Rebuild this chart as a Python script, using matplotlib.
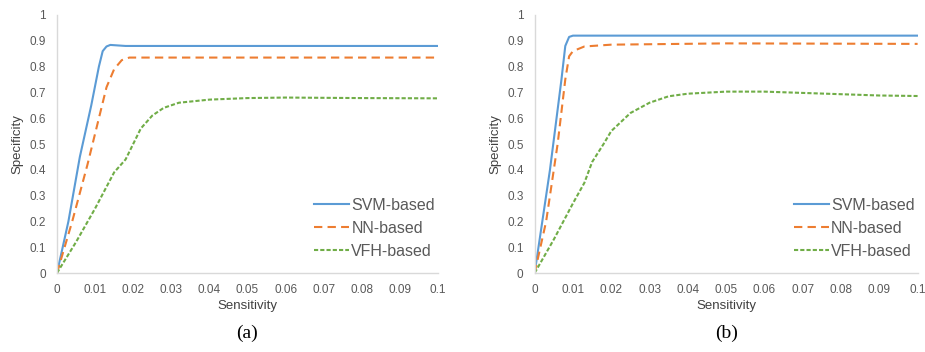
import matplotlib
matplotlib.use("Agg")
import matplotlib.pyplot as plt

# ---- data ----
# panel (a)
a_svm_x = [0, 0.003, 0.006, 0.009, 0.011, 0.012, 0.013, 0.014, 0.016, 0.018, 0.1]
a_svm_y = [0, 0.2, 0.45, 0.65, 0.8, 0.86, 0.878, 0.884, 0.882, 0.88, 0.88]
a_nn_x = [0, 0.004, 0.008, 0.011, 0.013, 0.015, 0.017, 0.019, 0.1]
a_nn_y = [0, 0.2, 0.42, 0.6, 0.72, 0.79, 0.825, 0.835, 0.835]
a_vfh_x = [0, 0.005, 0.01, 0.015, 0.018, 0.02, 0.022, 0.025, 0.028, 0.032, 0.04, 0.05, 0.06, 0.07, 0.08, 0.1]
a_vfh_y = [0, 0.12, 0.25, 0.39, 0.44, 0.5, 0.56, 0.61, 0.64, 0.66, 0.672, 0.678, 0.68, 0.679, 0.678, 0.677]

# panel (b)
b_svm_x = [0, 0.004, 0.007, 0.008, 0.009, 0.01, 0.1]
b_svm_y = [0, 0.4, 0.75, 0.88, 0.915, 0.92, 0.92]
b_nn_x = [0, 0.003, 0.006, 0.008, 0.009, 0.01, 0.013, 0.02, 0.05, 0.1]
b_nn_y = [0, 0.2, 0.5, 0.75, 0.84, 0.86, 0.878, 0.885, 0.89, 0.888]
b_vfh_x = [0, 0.005, 0.01, 0.013, 0.015, 0.018, 0.02, 0.025, 0.03, 0.035, 0.04, 0.05, 0.06, 0.07, 0.08, 0.09, 0.1]
b_vfh_y = [0, 0.13, 0.27, 0.35, 0.43, 0.5, 0.55, 0.62, 0.66, 0.685, 0.695, 0.703, 0.703, 0.698, 0.693, 0.688, 0.686]

x_ticks = [0, 0.01, 0.02, 0.03, 0.04, 0.05, 0.06, 0.07, 0.08, 0.09, 0.1]
x_tick_labels = ["0", "0.01", "0.02", "0.03", "0.04", "0.05", "0.06", "0.07", "0.08", "0.09", "0.1"]
y_ticks = [0, 0.1, 0.2, 0.3, 0.4, 0.5, 0.6, 0.7, 0.8, 0.9, 1]
y_tick_labels = ["0", "0.1", "0.2", "0.3", "0.4", "0.5", "0.6", "0.7", "0.8", "0.9", "1"]
series_names = ["SVM-based", "NN-based", "VFH-based"]

panels = [
    ("(a)", [(a_svm_x, a_svm_y), (a_nn_x, a_nn_y), (a_vfh_x, a_vfh_y)]),
    ("(b)", [(b_svm_x, b_svm_y), (b_nn_x, b_nn_y), (b_vfh_x, b_vfh_y)]),
]

colors = ["#5B9BD5", "#ED7D31", "#70AD47"]
dashes = [None, (4, 2.5), (2, 1)]

plt.rcParams['font.family'] = ['Liberation Sans', 'DejaVu Sans']

fig = plt.figure(figsize=(9.25, 3.52), dpi=100)
axes_pos = [[0.0616, 0.2244, 0.4119, 0.733], [0.578, 0.2244, 0.414, 0.733]]

for (caption, series), pos in zip(panels, axes_pos):
    ax = fig.add_axes(pos)
    for (xs, ys), name, c, d in zip(series, series_names, colors, dashes):
        line, = ax.plot(xs, ys, color=c, lw=1.5, label=name)
        if d is not None:
            line.set_dashes(d)
    ax.set_xlim(0, 0.1)
    ax.set_ylim(0, 1)
    ax.set_xticks(x_ticks)
    ax.set_xticklabels(x_tick_labels)
    ax.set_yticks(y_ticks)
    ax.set_yticklabels(y_tick_labels)
    ax.tick_params(length=0, labelsize=8.5, labelcolor="#595959", pad=8)
    for s in ["top", "right"]:
        ax.spines[s].set_visible(False)
    for s in ["left", "bottom"]:
        ax.spines[s].set_color("#D9D9D9")
        ax.spines[s].set_linewidth(1)
    ax.set_xlabel("Sensitivity", fontsize=9.5, color="#404040", labelpad=3)
    ax.set_ylabel("Specificity", fontsize=9.5, color="#404040", labelpad=4)
    ax.legend(loc="lower right", bbox_to_anchor=(1.03, 0.0), frameon=False,
              fontsize=11.5, labelcolor="#595959", handlelength=2.2,
              handletextpad=0.15, labelspacing=0.5)
    ax.text(0.5, -0.2, caption, transform=ax.transAxes, ha="center", va="top",
            fontsize=14, family="Liberation Serif", color="black")

fig.savefig("out.png", dpi=100)
